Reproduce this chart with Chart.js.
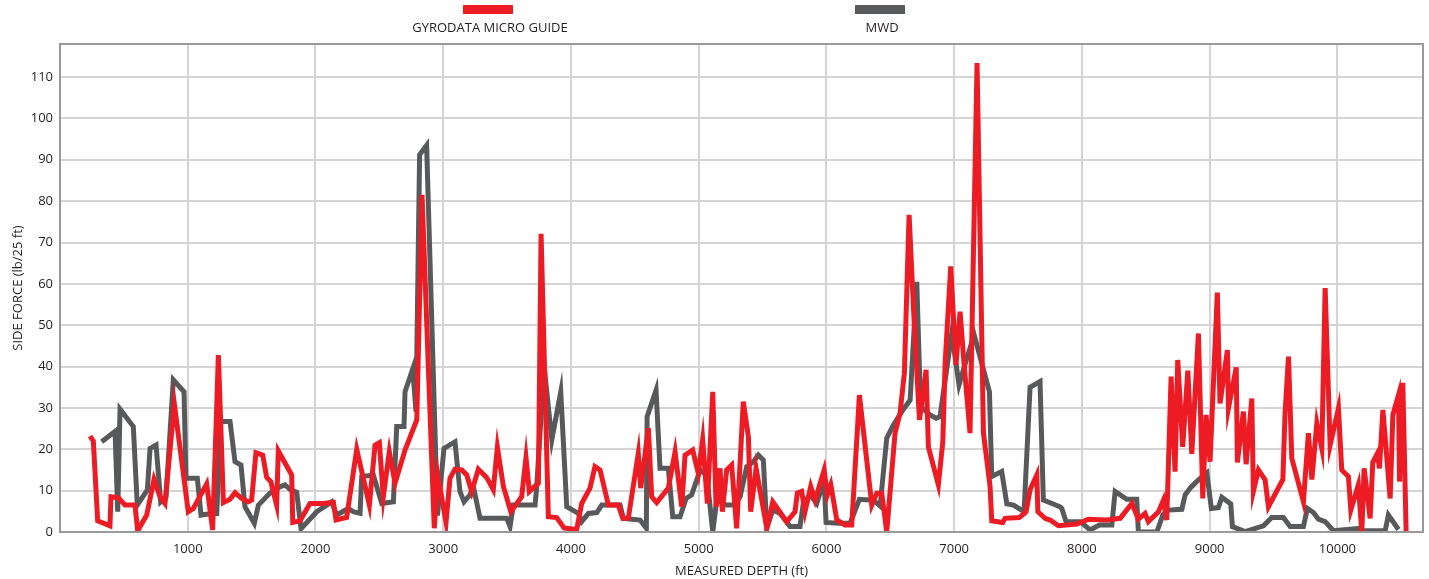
<!DOCTYPE html>
<html>
<head>
<meta charset="utf-8">
<style>
  html, body { margin: 0; padding: 0; background: #fff; }
  #wrap { width: 1429px; height: 579px; position: relative; }
</style>
<script src="https://cdn.jsdelivr.net/npm/chart.js@4.4.1/dist/chart.umd.min.js"></script>
</head>
<body>
<div id="wrap"><canvas id="sideForceChart"></canvas></div>
<script>
// measured depth (ft) and side force (lb/25 ft)
const gyroDepth = [235, 261, 295, 391, 399, 457, 509, 587, 608, 679, 736, 783, 822, 895, 1004, 1044, 1148, 1195, 1240, 1279,
    1331, 1370, 1422, 1474, 1500, 1534, 1587, 1618, 1650, 1696, 1709, 1814, 1822, 1879, 1957, 2061, 2140, 2161, 2244, 2323,
    2422, 2466, 2500, 2531, 2578, 2623, 2701, 2793, 2834, 2930, 2957, 3022, 3053, 3092, 3145, 3184, 3223, 3275, 3340, 3392,
    3424, 3471, 3529, 3614, 3648, 3674, 3745, 3766, 3823, 3888, 3946, 4045, 4084, 4149, 4188, 4228, 4293, 4371, 4405, 4449,
    4527, 4546, 4606, 4632, 4671, 4762, 4815, 4867, 4893, 4953, 4997, 5031, 5068, 5110, 5136, 5167, 5185, 5219, 5258, 5297,
    5349, 5389, 5407, 5449, 5533, 5580, 5689, 5754, 5772, 5806, 5832, 5877, 5911, 5982, 6007, 6034, 6081, 6146, 6198, 6258,
    6355, 6394, 6433, 6472, 6537, 6576, 6610, 6647, 6682, 6728, 6780, 6798, 6876, 6911, 6929, 6973, 7014, 7046, 7077, 7124,
    7179, 7229, 7281, 7294, 7380, 7398, 7510, 7563, 7594, 7647, 7655, 7712, 7751, 7816, 7960, 8051, 8195, 8299, 8391, 8442,
    8494, 8520, 8599, 8638, 8664, 8698, 8729, 8750, 8789, 8829, 8860, 8912, 8946, 8972, 9003, 9060, 9081, 9139, 9147, 9208,
    9217, 9264, 9285, 9330, 9342, 9382, 9434, 9460, 9573, 9590, 9617, 9643, 9734, 9773, 9800, 9839, 9878, 9904, 9943, 10008,
    10034, 10086, 10105, 10164, 10191, 10209, 10256, 10277, 10313, 10329, 10356, 10413, 10434, 10478, 10486, 10512, 10538];
const gyroForce = [23.2, 22, 2.7, 1.5, 8.5, 8.3, 6.5, 6.5, 0.3, 4.1, 12.7, 8.5, 6.9, 31, 4.9, 5.7, 11.6, 0.5, 42.8, 7.1,
    7.9, 9.5, 8.1, 7.3, 7.7, 19.2, 18.6, 13.2, 12.2, 6.5, 19.6, 13.8, 2.3, 2.7, 6.9, 6.9, 7.2, 2.9, 3.5, 20,
    6.5, 21, 21.6, 8.5, 19.4, 11.8, 19.8, 27.1, 81.5, 0.9, 13.8, 2.3, 13, 15.2, 15, 13.8, 9.8, 15.2, 13.2, 10.2,
    20.5, 11, 4.9, 8.5, 18, 9.8, 11.8, 72.1, 3.7, 3.5, 1.0, 0.6, 6.9, 10.6, 15.8, 15, 6.5, 6.5, 3.3, 3.3,
    19, 10.6, 25.1, 8.5, 7.1, 10.6, 19.4, 6.1, 18.6, 19.8, 14.2, 22.3, 6.9, 33.9, 6.1, 15.4, 4.9, 15, 16.2, 0.9,
    31.5, 23, 4.9, 15.4, 0.9, 7.3, 2.5, 4.9, 9.4, 9.8, 4.9, 11, 7.7, 15, 9, 11.4, 2.9, 1.7, 1.7, 33.1,
    6.5, 9.4, 9.4, 0, 23.9, 28.7, 38.4, 76.7, 53.7, 27.1, 39.2, 20.6, 11.4, 21.8, 40.8, 64.2, 40.4, 53.3, 40.8, 23.9,
    113.4, 23.9, 11, 2.7, 2.3, 3.3, 3.5, 4.9, 10.2, 13.8, 4.9, 3.3, 2.9, 1.5, 1.9, 3.1, 2.9, 3.3, 6.9, 3.1,
    4.5, 2.5, 4.9, 7.7, 2.9, 37.6, 14.6, 41.6, 20.6, 39, 18.9, 48, 8.1, 28.3, 17, 57.9, 31.1, 44, 29.9, 39.8,
    16.8, 29.1, 16.4, 32.3, 9.8, 15, 12.6, 6.1, 12.7, 28.7, 42.4, 17.8, 7.3, 23.9, 12.7, 26.3, 20.2, 59, 21, 29.9,
    15, 13.4, 5.3, 11.4, 0, 15.4, 3.3, 16.8, 19, 15.4, 29.5, 8.1, 28.3, 33.1, 12.2, 36.1, 0];

const mwdDepth = [326, 431, 452, 470, 574, 605, 684, 705, 752, 788, 830, 887, 971, 986, 1075, 1104, 1174, 1206, 1227, 1258,
    1331, 1370, 1417, 1448, 1521, 1553, 1644, 1696, 1761, 1806, 1853, 1887, 2010, 2127, 2166, 2257, 2296, 2349, 2362, 2453,
    2519, 2610, 2636, 2693, 2701, 2761, 2787, 2815, 2870, 2955, 3006, 3092, 3131, 3163, 3210, 3236, 3288, 3497, 3523, 3549,
    3719, 3732, 3790, 3850, 3920, 3967, 4058, 4084, 4136, 4202, 4241, 4384, 4410, 4541, 4590, 4596, 4666, 4697, 4762, 4797,
    4854, 4901, 4945, 5011, 5063, 5110, 5141, 5219, 5271, 5324, 5376, 5428, 5467, 5506, 5533, 5580, 5637, 5715, 5793, 5819,
    5872, 5924, 5982, 5997, 6093, 6185, 6258, 6367, 6420, 6472, 6524, 6590, 6655, 6707, 6737, 6811, 6858, 6889, 6981, 7038,
    7072, 7156, 7276, 7294, 7372, 7412, 7464, 7547, 7594, 7672, 7698, 7829, 7842, 7876, 7986, 8064, 8137, 8234, 8260, 8351,
    8429, 8442, 8586, 8633, 8677, 8782, 8808, 8847, 8912, 8978, 9013, 9068, 9095, 9165, 9178, 9277, 9421, 9486, 9577, 9630,
    9734, 9765, 9812, 9851, 9904, 9969, 10178, 10204, 10374, 10399, 10478];
const mwdForce = [21.8, 24.3, 4.9, 29.7, 25.5, 6.5, 10.2, 20.2, 21, 7.3, 8.5, 36.8, 33.9, 13, 13, 4.1, 4.4, 4.5, 4.5, 26.7,
    26.7, 17, 16.2, 6.1, 2.1, 6.5, 9.4, 10.6, 11.4, 10.2, 9.6, 0.8, 4.9, 7.3, 4.1, 5.7, 4.9, 4.5, 13.4, 13.8,
    6.9, 7.3, 25.5, 25.5, 33.9, 39.4, 29.1, 91.2, 93.5, 4, 20.2, 21.8, 9.8, 7.3, 9, 11, 3.3, 3.3, 1.3, 6.5,
    6.5, 11, 40, 22.3, 33.9, 6.1, 4.5, 2.5, 4.5, 4.7, 6.5, 6.5, 3.3, 2.9, 0.9, 27.9, 34.3, 15.4, 15.4, 3.7,
    3.7, 8.1, 9, 15, 13.8, 0, 7.7, 6.5, 6.5, 8.5, 15.8, 17, 18.6, 17.4, 0.9, 5.3, 4.5, 1.3, 1.3, 6.9,
    9, 6.9, 12.6, 2.3, 2.1, 2.1, 7.9, 7.7, 6.3, 22.7, 25.9, 29.1, 31.9, 60.5, 30.3, 28.3, 27.5, 27.9, 48.1, 35.6,
    39.2, 47.7, 33.9, 13.4, 14.6, 6.8, 6.5, 4.9, 35, 36.4, 7.7, 6.1, 5.7, 2.5, 2.5, 0.5, 1.7, 1.7, 9.8, 7.9,
    7.9, 0, 0, 4.1, 5.3, 5.5, 9, 10.6, 12.6, 14.3, 5.7, 5.9, 8.4, 6.8, 1.3, 0.1, 1.5, 3.5, 3.5, 1.3,
    1.3, 5.7, 4.7, 3.1, 2.5, 0.3, 0.9, 0.3, 0.3, 4.1, 0.6];

const xTicks = [1000, 2000, 3000, 4000, 5000, 6000, 7000, 8000, 9000, 10000];
const yTicks = [0, 10, 20, 30, 40, 50, 60, 70, 80, 90, 100, 110];

const RED = '#ED1C24';
const GREY = '#58595B';
const FONT = "'Open Sans', 'Noto Sans', sans-serif";

function toPoints(xs, ys) {
    return xs.map((x, i) => ({ x: x, y: ys[i] }));
}

// frame round the plot + the legend (box above its label) at the top
const framePlugin = {
    id: 'frame',
    beforeDraw(chart) {
        const ctx = chart.ctx;
        ctx.save();
        ctx.fillStyle = '#fff';
        ctx.fillRect(0, 0, chart.width, chart.height);
        ctx.restore();
    },
    afterDraw(chart) {
        const ctx = chart.ctx;
        const a = chart.chartArea;
        ctx.save();
        ctx.strokeStyle = '#9a9a9a';
        ctx.lineWidth = 2;
        ctx.strokeRect(a.left, a.top, a.right - a.left, a.bottom - a.top);

        const items = [
            { cx: 488, ds: chart.data.datasets[0] },
            { cx: 880, ds: chart.data.datasets[1] }
        ];
        ctx.font = '13px ' + FONT;
        ctx.textAlign = 'center';
        ctx.textBaseline = 'middle';
        items.forEach(it => {
            ctx.fillStyle = it.ds.borderColor;
            ctx.fillRect(it.cx - 25, 5, 50, 9);
            ctx.fillStyle = '#231F20';
            ctx.fillText(it.ds.label, it.cx + 2, 28);
        });
        ctx.restore();
    }
};

new Chart(document.getElementById('sideForceChart'), {
    type: 'line',
    data: {
        datasets: [{
            label: 'GYRODATA MICRO GUIDE',
            data: toPoints(gyroDepth, gyroForce),
            borderColor: RED,
            borderWidth: 5,
            pointRadius: 0,
            tension: 0,
            fill: false
        }, {
            label: 'MWD',
            data: toPoints(mwdDepth, mwdForce),
            borderColor: GREY,
            borderWidth: 5,
            pointRadius: 0,
            tension: 0,
            fill: false
        }]
    },
    options: {
        responsive: true,
        maintainAspectRatio: false,
        animation: false,
        layout: { padding: { top: 44, right: 6, left: 0, bottom: 0 } },
        plugins: {
            legend: { display: false },
            tooltip: { enabled: false }
        },
        scales: {
            x: {
                type: 'linear',
                min: 0,
                max: 10670,
                afterBuildTicks: s => { s.ticks = xTicks.map(v => ({ value: v })); },
                afterFit: s => { s.height = 47; },
                grid: { color: '#d4d4d4', lineWidth: 2, drawTicks: false },
                border: { color: '#9a9a9a', width: 2 },
                ticks: {
                    padding: 9,
                    color: '#231F20',
                    font: { family: FONT, size: 13 },
                    maxRotation: 0,
                    callback: v => String(v)
                },
                title: {
                    display: true,
                    text: 'MEASURED DEPTH (ft)',
                    color: '#231F20',
                    font: { family: FONT, size: 13 },
                    padding: { top: -2, bottom: 0 }
                }
            },
            y: {
                min: 0,
                max: 118,
                afterBuildTicks: s => { s.ticks = yTicks.map(v => ({ value: v })); },
                afterFit: s => { s.width = 60; },
                grid: { color: '#d4d4d4', lineWidth: 2, drawTicks: false },
                border: { color: '#9a9a9a', width: 2 },
                ticks: {
                    padding: 7,
                    color: '#231F20',
                    font: { family: FONT, size: 13 },
                    callback: v => String(v)
                },
                title: {
                    display: true,
                    text: 'SIDE FORCE (lb/25 ft)',
                    color: '#231F20',
                    font: { family: FONT, size: 13 },
                    padding: { top: 10, bottom: 0 }
                }
            }
        }
    },
    plugins: [framePlugin]
});
</script>
</body>
</html>
